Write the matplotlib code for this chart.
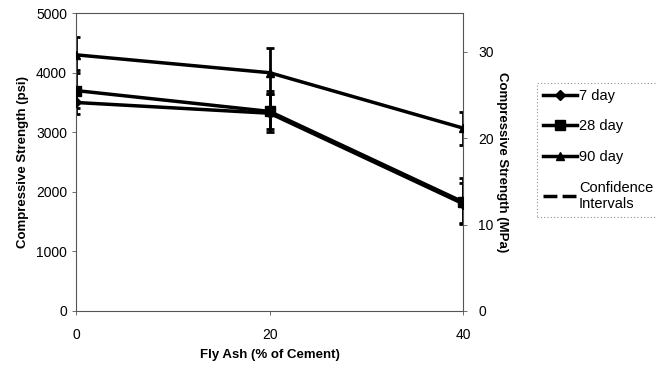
import matplotlib
matplotlib.use("Agg")
import matplotlib.pyplot as plt
import numpy as np

plt.rcParams['font.family'] = ['Liberation Sans', 'DejaVu Sans']

fly_ash = [0, 20, 40]
series_names = ["7 day", "28 day", "90 day"]
strength_7 = [3500, 3320, 1800]
strength_28 = [3700, 3350, 1830]
strength_90 = [4300, 4000, 3070]
# confidence interval bounds (psi)
low_7 = [3300, 3050, 1480]
high_7 = [3700, 3650, 2150]
low_28 = [3400, 3000, 1460]
high_28 = [4050, 3700, 2230]
low_90 = [4000, 3650, 2790]
high_90 = [4600, 4420, 3340]

markers = ["D", "s", "^"]
marker_sizes = [5, 7, 6]
values = [strength_7, strength_28, strength_90]
lows = [low_7, low_28, low_90]
highs = [high_7, high_28, high_90]

fig = plt.figure(figsize=(6.56, 3.65), dpi=100)
ax = fig.add_axes([0.116, 0.148, 0.59, 0.816])

handles = []
for name, vals, lo, hi, m, ms in zip(series_names, values, lows, highs, markers, marker_sizes):
    vals = np.array(vals)
    err = [vals - np.array(lo), np.array(hi) - vals]
    ax.errorbar(fly_ash, vals, yerr=err, fmt='none', ecolor='black',
                elinewidth=2, capsize=3, capthick=2, zorder=2)
    h, = ax.plot(fly_ash, vals, color='black', lw=2.5, marker=m, ms=ms,
                 label=name, zorder=3)
    handles.append(h)

ci, = ax.plot([], [], color='black', lw=2.5, ls=(0, (4, 1.5)), label="Confidence\nIntervals")
handles.append(ci)

ax.set_xlim(0, 40)
ax.set_ylim(0, 5000)
ax.set_xticks([0, 20, 40])
ax.set_yticks([0, 1000, 2000, 3000, 4000, 5000])
ax.set_xlabel("Fly Ash (% of Cement)", fontsize=9.5, fontweight='bold', labelpad=5)
ax.set_ylabel("Compressive Strength (psi)", fontsize=9.5, fontweight='bold', labelpad=5)
ax.tick_params(labelsize=10, length=3, width=0.6, color='#555555')
ax.tick_params(axis='x', pad=9)
for s in ax.spines.values():
    s.set_linestyle((0, (1, 1)))
    s.set_linewidth(0.8)
    s.set_color('#555555')

ax2 = ax.twinx()
ax2.set_ylim(0, 5000 / 145.04)
ax2.set_yticks([0, 10, 20, 30])
ax2.set_ylabel("Compressive Strength (MPa)", fontsize=9.5, fontweight='bold',
               rotation=270, labelpad=10)
ax2.tick_params(labelsize=10, length=3, width=0.6, color='#555555', pad=8)
for s in ax2.spines.values():
    s.set_visible(False)

leg = fig.legend(handles=handles, loc='upper left', bbox_to_anchor=(0.819, 0.773),
                 borderaxespad=0, fontsize=10.5, frameon=True, fancybox=False,
                 handlelength=2.3, labelspacing=1.15, borderpad=0.4,
                 handletextpad=0.15)
leg.get_frame().set_edgecolor('#777777')
leg.get_frame().set_linestyle((0, (1, 2)))
leg.get_frame().set_linewidth(0.8)

fig.savefig("out.png", dpi=100)
